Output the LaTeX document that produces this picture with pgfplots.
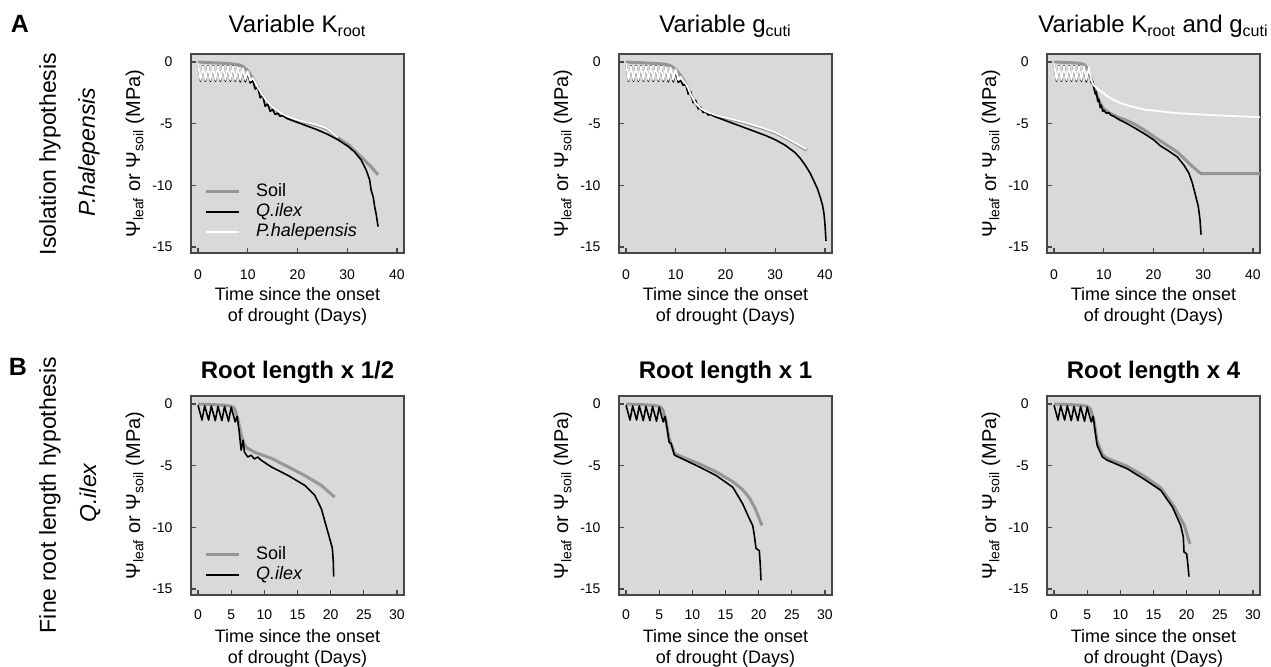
\documentclass[border=0pt]{standalone}
\usepackage{fontspec}
\setmainfont{Liberation Sans}
\usepackage{pgfplots}
\pgfplotsset{compat=1.18}
\definecolor{bgray}{RGB}{217,217,217}
\definecolor{soilgray}{RGB}{150,150,150}
\definecolor{axgray}{RGB}{70,70,70}
\pgfplotsset{
  panel/.style={
    scale only axis, width=106.5pt, height=99.5pt, anchor=south west,
    axis background/.style={fill=bgray},
    axis line style={draw=axgray, line width=0.7pt},
    ymin=-15.49, ymax=0.65,
    ytick={-15,-10,-5,0}, yticklabels={-15,-10,-5,0},
    tick align=inside, tick pos=left,
    major tick length=2.5pt,
    every tick/.style={axgray, line width=0.6pt},
    ticklabel style={font=\fontsize{7}{8}\selectfont},
    /pgf/number format/assume math mode=true,
    yticklabel style={anchor=east, xshift=-5.7pt},
    xticklabel style={anchor=center, yshift=-11pt},
    xlabel={Time since the onset\\of drought (Days)},
    xlabel style={font=\fontsize{9}{10.5}\selectfont, align=center, at={(axis description cs:0.5,0)}, anchor=center, yshift=-26.5pt},
    ylabel={Ψ\textsubscript{leaf} or Ψ\textsubscript{soil} (MPa)},
    ylabel style={font=\fontsize{10}{11}\selectfont, at={(axis description cs:0,0.5)}, rotate=0, anchor=center, yshift=28pt},
    title style={font=\fontsize{12}{14}\selectfont, at={(axis description cs:0.5,1)}, anchor=base, yshift=4.75pt},
    legend style={draw=none, fill=none, inner sep=0pt, outer sep=0pt, anchor=south west,
      font=\fontsize{9}{10}\selectfont, row sep=1.4pt,
      nodes={inner sep=0pt, text height=6.6pt, text depth=2pt},
      /tikz/every odd column/.append style={column sep=8pt}},
    legend cell align=left,
    legend image code/.code={\draw[#1] (0pt,0pt) -- (16.5pt,0pt);},
  },
  soil/.style={soilgray, line width=1.5pt, line join=round},
  qilex/.style={black, line width=0.8pt, line join=round},
  phal/.style={white, line width=0.9pt, line join=round},
  Arow/.style={xmin=-1.41, xmax=41.41, xtick={0,10,20,30,40}, xticklabels={0,10,20,30,40}},
  Brow/.style={xmin=-1.06, xmax=31.06, xtick={0,5,10,15,20,25,30}, xticklabels={0,5,10,15,20,25,30},
    title style={font=\bfseries\fontsize{12}{14}\selectfont, yshift=-1.75pt},
    xticklabel style={yshift=1pt}},
}
\begin{document}
\begin{tikzpicture}
\useasboundingbox (0,0) rectangle (635.5pt,-333pt);
\node[font=\bfseries\fontsize{12.5}{14}\selectfont] at (10pt,-12pt) {A};
\node[font=\bfseries\fontsize{12.5}{14}\selectfont] at (9pt,-183.3pt) {B};
\node[rotate=90, font=\fontsize{11.5}{13}\selectfont] at (25pt,-77pt) {Isolation hypothesis};
\node[rotate=90, font=\itshape\fontsize{11.5}{13}\selectfont] at (44.5pt,-76pt) {P.halepensis};
\node[rotate=90, font=\fontsize{11.5}{13}\selectfont] at (25pt,-247.5pt) {Fine root length hypothesis};
\node[rotate=90, font=\itshape\fontsize{11.5}{13}\selectfont] at (45pt,-246.5pt) {Q.ilex};

% ---------- A1 ----------
\begin{axis}[panel, Arow, at={(95.5pt,-126.5pt)}, title={Variable K\textsubscript{root}},
  legend style={at={(axis description cs:0.062,0.063)}}]
\addplot[soil] coordinates {(0,0)(2,-0.04)(4,-0.08)(6,-0.12)(8,-0.2)(9,-0.35)(10,-0.7)(11,-1.3)(11.5,-1.7)(12,-2.1)(13,-2.75)(14,-3.3)(15,-3.7)(16,-4.0)(17,-4.25)(18,-4.45)(20,-4.75)(22,-4.95)(24,-5.15)(26,-5.45)(27,-5.8)(28.1,-6.15)(30.2,-6.7)(32.8,-7.7)(34.8,-8.5)(36.2,-9.15)};
\addlegendentry{Soil}
\addplot[qilex] coordinates {(0,-0.1)(0.5,-1.55)(1,-0.3)(1.5,-1.55)(2,-0.3)(2.5,-1.55)(3,-0.3)(3.5,-1.55)(4,-0.3)(4.5,-1.55)(5,-0.3)(5.5,-1.55)(6,-0.3)(6.5,-1.55)(7,-0.3)(7.5,-1.55)(8,-0.35)(8.5,-1.6)(9,-0.5)(9.5,-1.6)(10,-0.9)(10.5,-1.7)(11,-1.5)(11.5,-2.2)(12,-2.0)(12.5,-2.9)(13,-2.7)(13.5,-3.6)(14,-3.4)(14.5,-4.0)(15,-3.85)(15.5,-4.25)(16,-4.15)(16.5,-4.4)(17,-4.35)(18,-4.6)(20,-4.9)(22,-5.2)(24,-5.5)(26,-5.85)(28.1,-6.3)(30.2,-6.85)(31.5,-7.3)(32.8,-7.95)(33.8,-8.75)(34.5,-9.55)(34.8,-10.4)(35.2,-10.9)(35.5,-11.7)(35.8,-12.3)(36.2,-13.35)};
\addlegendentry{\textit{Q.ilex}}
\addplot[phal] coordinates {(0,-0.1)(0.5,-1.45)(1,-0.35)(1.5,-1.45)(2,-0.35)(2.5,-1.45)(3,-0.35)(3.5,-1.45)(4,-0.35)(4.5,-1.45)(5,-0.35)(5.5,-1.45)(6,-0.35)(6.5,-1.45)(7,-0.35)(7.5,-1.45)(8,-0.4)(8.5,-1.45)(9,-0.5)(9.5,-1.45)(10,-0.75)(10.5,-1.5)(11,-1.3)(11.5,-1.65)(12,-2.05)(13,-2.7)(14,-3.25)(15,-3.65)(16,-3.95)(17,-4.2)(18,-4.4)(20,-4.7)(22,-4.9)(24,-5.1)(26,-5.4)(27,-5.75)(28.1,-6.1)};
\addlegendentry{\textit{P.halepensis}}
\end{axis}

% ---------- A2 ----------
\begin{axis}[panel, Arow, at={(309.5pt,-126.5pt)}, title={Variable g\textsubscript{cuti}}]
\addplot[soil] coordinates {(0,0)(2,-0.04)(4,-0.08)(6,-0.12)(8,-0.18)(9,-0.3)(10,-0.6)(11,-1.1)(12,-1.75)(12.5,-2.2)(13,-2.65)(13.5,-3.05)(14,-3.4)(15,-3.8)(16,-4.05)(17,-4.2)(18,-4.35)(20,-4.55)(22,-4.75)(24,-4.95)(26,-5.2)(28,-5.45)(30,-5.75)(32,-6.15)(34,-6.6)(36.3,-7.15)};
\addplot[qilex] coordinates {(0,-0.1)(0.5,-1.55)(1,-0.3)(1.5,-1.55)(2,-0.3)(2.5,-1.55)(3,-0.3)(3.5,-1.55)(4,-0.3)(4.5,-1.55)(5,-0.3)(5.5,-1.55)(6,-0.3)(6.5,-1.55)(7,-0.3)(7.5,-1.55)(8,-0.35)(8.5,-1.6)(9,-0.45)(9.5,-1.6)(10,-0.8)(10.5,-1.65)(11,-1.5)(11.5,-1.9)(12,-1.8)(12.5,-2.6)(13,-2.4)(13.5,-3.3)(14,-3.1)(14.5,-3.8)(15,-3.65)(15.5,-4.1)(16,-4.0)(16.5,-4.3)(17,-4.25)(18,-4.45)(20,-4.75)(22,-5.05)(24,-5.35)(26,-5.65)(28,-5.95)(30,-6.3)(32,-6.75)(34,-7.35)(35,-7.8)(36,-8.35)(37,-9.0)(38,-9.85)(38.5,-10.3)(39,-10.9)(39.5,-11.6)(39.8,-12.3)(40,-13.2)(40.2,-14.5)};
\addplot[phal] coordinates {(0,-0.1)(0.5,-1.45)(1,-0.35)(1.5,-1.45)(2,-0.35)(2.5,-1.45)(3,-0.35)(3.5,-1.45)(4,-0.35)(4.5,-1.45)(5,-0.35)(5.5,-1.45)(6,-0.35)(6.5,-1.45)(7,-0.35)(7.5,-1.45)(8,-0.4)(8.5,-1.45)(9,-0.45)(9.5,-1.45)(10,-0.6)(10.5,-1.45)(11,-1.2)(11.5,-1.55)(12,-1.75)(12.5,-2.15)(13,-2.6)(13.5,-3.0)(14,-3.35)(15,-3.75)(16,-4.0)(17,-4.15)(18,-4.3)(20,-4.5)(22,-4.7)(24,-4.9)(26,-5.15)(28,-5.4)(30,-5.7)(32,-6.1)(34,-6.55)(36.2,-7.05)};
\end{axis}

% ---------- A3 ----------
\begin{axis}[panel, Arow, at={(523.5pt,-126.5pt)}, title={Variable K\textsubscript{root} and g\textsubscript{cuti}}]
\addplot[soil] coordinates {(0,0)(2,-0.03)(4,-0.07)(5,-0.1)(6,-0.2)(6.5,-0.4)(7,-0.8)(7.5,-1.4)(8,-2.0)(8.5,-2.6)(9,-3.1)(9.5,-3.5)(10,-3.8)(11,-4.1)(12,-4.3)(13,-4.5)(14.7,-4.75)(16,-5.0)(18.1,-5.5)(21.4,-6.4)(24.8,-7.3)(27.5,-8.35)(29.5,-9.05)(41.5,-9.05)};
\addplot[qilex] coordinates {(0,-0.1)(0.5,-1.55)(1,-0.3)(1.5,-1.55)(2,-0.3)(2.5,-1.55)(3,-0.3)(3.5,-1.55)(4,-0.3)(4.5,-1.55)(5,-0.3)(5.5,-1.55)(6,-0.35)(6.5,-1.6)(7,-0.5)(7.5,-1.7)(7.8,-1.6)(8,-2.0)(8.3,-2.6)(8.5,-2.4)(8.8,-3.2)(9,-3.0)(9.3,-3.7)(9.5,-3.5)(9.8,-4.0)(10,-3.9)(10.5,-4.15)(11,-4.1)(11.4,-4.3)(12,-4.4)(13,-4.65)(14.7,-5.0)(16,-5.3)(18.1,-5.8)(20,-6.3)(21.4,-6.8)(23,-7.2)(24.8,-7.7)(26.1,-8.35)(27.1,-9.0)(27.8,-9.8)(28.5,-10.9)(29,-11.7)(29.35,-12.8)(29.55,-14.0)};
\addplot[phal] coordinates {(0,-0.1)(0.5,-1.45)(1,-0.35)(1.5,-1.45)(2,-0.35)(2.5,-1.45)(3,-0.35)(3.5,-1.45)(4,-0.35)(4.5,-1.45)(5,-0.35)(5.5,-1.45)(6,-0.35)(6.5,-1.45)(7,-0.45)(7.5,-1.5)(8,-1.9)(9,-2.25)(10,-2.55)(11,-2.85)(12.1,-3.1)(13.5,-3.35)(14.7,-3.5)(16,-3.65)(18.1,-3.85)(21.4,-4.0)(24.8,-4.15)(28,-4.22)(31.5,-4.3)(36,-4.38)(41.5,-4.48)};
\end{axis}

% ---------- B1 ----------
\begin{axis}[panel, Brow, at={(95.5pt,-297.5pt)}, title={Root length x 1/2},
  legend style={at={(axis description cs:0.062,0.058)}}]
\addplot[soil] coordinates {(0,0)(1,-0.02)(2,-0.04)(3,-0.07)(4,-0.1)(5,-0.18)(5.5,-0.35)(6,-1.2)(6.5,-2.5)(7,-3.35)(7.5,-3.6)(8.5,-3.9)(11.05,-4.4)(13.6,-5.1)(16.1,-5.8)(18.6,-6.6)(20.6,-7.55)};
\addlegendentry{Soil}
\addplot[qilex] coordinates {(0,-0.1)(0.6,-1.3)(1,-0.15)(1.6,-1.3)(2,-0.15)(2.6,-1.35)(3,-0.2)(3.6,-1.35)(4,-0.2)(4.6,-1.4)(5,-0.25)(5.6,-1.45)(5.9,-1.0)(6.2,-2.2)(6.5,-3.75)(6.8,-2.95)(7.0,-3.9)(7.5,-4.3)(8,-4.15)(8.5,-4.45)(9,-4.3)(9.5,-4.55)(11.05,-5.1)(13.6,-5.8)(16.1,-6.6)(17.6,-7.4)(18.6,-8.5)(19.3,-9.85)(19.85,-10.9)(20.25,-11.7)(20.4,-12.8)(20.45,-14.0)};
\addlegendentry{\textit{Q.ilex}}
\end{axis}

% ---------- B2 ----------
\begin{axis}[panel, Brow, at={(309.5pt,-297.5pt)}, title={Root length x 1}]
\addplot[soil] coordinates {(0,0)(1,-0.02)(2,-0.04)(3,-0.07)(4,-0.1)(5,-0.18)(5.5,-0.4)(6,-1.3)(6.5,-2.8)(7.3,-4.0)(8.5,-4.3)(11.05,-4.85)(13.6,-5.5)(16.1,-6.3)(17.5,-6.9)(18.6,-7.6)(19.5,-8.5)(20.5,-9.85)};
\addplot[qilex] coordinates {(0,-0.1)(0.6,-1.3)(1,-0.15)(1.6,-1.3)(2,-0.15)(2.6,-1.35)(3,-0.2)(3.6,-1.35)(4,-0.2)(4.6,-1.4)(5,-0.25)(5.6,-1.45)(5.9,-1.0)(6.2,-2.0)(6.5,-3.1)(6.8,-3.2)(7.3,-4.15)(8.5,-4.45)(11.05,-5.1)(13.6,-5.8)(16.1,-6.75)(17.6,-8.1)(18.6,-9.3)(19.1,-9.85)(19.35,-10.65)(19.6,-11.7)(20.1,-11.9)(20.25,-13.1)(20.35,-14.3)};
\end{axis}

% ---------- B3 ----------
\begin{axis}[panel, Brow, at={(523.5pt,-297.5pt)}, title={Root length x 4}]
\addplot[soil] coordinates {(0,0)(1,-0.02)(2,-0.04)(3,-0.07)(4,-0.1)(5,-0.18)(5.5,-0.4)(6,-1.3)(6.5,-3.0)(7.3,-4.1)(8,-4.4)(11.05,-5.05)(13.6,-5.85)(16.1,-6.8)(18.1,-8.3)(19.6,-9.8)(20.5,-11.35)};
\addplot[qilex] coordinates {(0,-0.1)(0.6,-1.3)(1,-0.15)(1.6,-1.3)(2,-0.15)(2.6,-1.35)(3,-0.2)(3.6,-1.35)(4,-0.2)(4.6,-1.4)(5,-0.25)(5.6,-1.45)(5.9,-1.0)(6.2,-2.2)(6.5,-3.35)(7.3,-4.3)(8.0,-4.55)(11.05,-5.25)(13.6,-6.1)(16.1,-7.0)(17.85,-8.35)(19.1,-9.85)(19.5,-10.8)(19.6,-12.0)(20.0,-12.15)(20.2,-13.1)(20.35,-14.0)};
\end{axis}
\end{tikzpicture}
\end{document}
